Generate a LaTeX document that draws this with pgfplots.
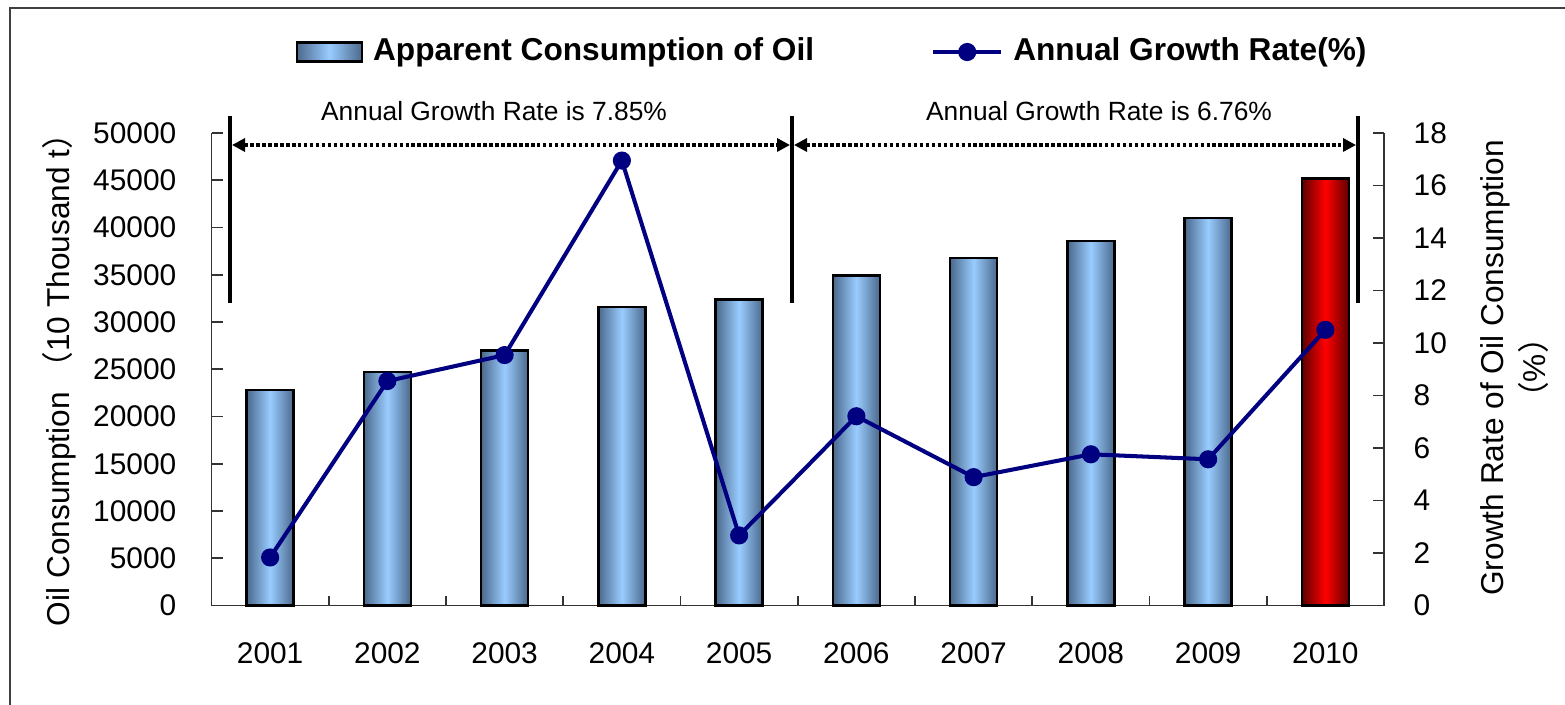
\documentclass[border=0pt]{standalone}
\usepackage{pgfplots}
\pgfplotsset{compat=1.18}
\usepackage{fontspec}
\setmainfont{Liberation Sans}
\newfontfamily\cjk{Noto Sans CJK SC}
\usetikzlibrary{arrows.meta}

\definecolor{barmid}{RGB}{153,204,255}
\definecolor{baredge}{RGB}{75,105,140}
\definecolor{redmid}{RGB}{255,0,0}
\definecolor{rededge}{RGB}{95,0,0}
\definecolor{navyline}{RGB}{0,0,128}

\pgfplotsset{
  mylinelegend/.style={legend image code/.code={\draw[mark repeat=2, mark phase=2, ##1] plot coordinates {(0cm,0cm) (0.34cm,0cm) (0.68cm,0cm)};}},
  mybarlegend/.style={legend image code/.code={\draw[draw=black, line width=0.7pt, left color=baredge, right color=baredge, middle color=barmid] (0cm,-0.095cm) rectangle (0.65cm,0.095cm);}},
  bluebar/.style={ybar, bar width=0.4, bar shift=0pt, draw=black, line width=0.7pt,
    left color=baredge, right color=baredge, middle color=barmid},
  redbar/.style={ybar, bar width=0.4, bar shift=0pt, draw=black, line width=0.7pt,
    left color=rededge, right color=rededge, middle color=redmid},
}

\newcommand{\tickfont}{\fontsize{8.5}{10}\selectfont}
\newcommand{\labfont}{\fontsize{9.0}{10}\selectfont}

\begin{document}
\begin{tikzpicture}
\path[use as bounding box] (0,0) rectangle (15.65,7.04);
\draw[line width=0.6pt, draw=black!75] (0.10,-0.5) -- (0.10,6.96) -- (16.0,6.96);

\begin{axis}[
  at={(2.115cm,0.985cm)}, anchor=south west,
  scale only axis, width=11.725cm, height=4.725cm,
  xmin=-0.5, xmax=9.5, ymin=0, ymax=50000,
  axis x line*=bottom, axis y line*=left,
  axis line style={line width=0.45pt, draw=black!80, -},
  tick style={line width=0.45pt, draw=black!80},
  tick align=inside,
  xtick={0,...,9},
  xticklabels={2001,2002,2003,2004,2005,2006,2007,2008,2009,2010},
  major x tick style={draw=none},
  minor xtick={0.5,1.5,...,8.5},
  minor tick length=0.1cm,
  major tick length=0.11cm,
  ytick={0,5000,...,50000},
  scaled y ticks=false,
  yticklabel style={/pgf/number format/fixed, /pgf/number format/1000 sep={}, anchor=east, inner sep=0pt, xshift=-0.345cm},
  xticklabel style={anchor=north, inner sep=0pt, yshift=-0.365cm},
  tick label style={font=\tickfont},
  /pgf/number format/assume math mode=true,
  clip=false,
]
% Apparent consumption of oil (10 thousand t), one plot per bar so each bar is shaded on its own
\addplot[bluebar] coordinates {(0,22800)};
\addplot[bluebar] coordinates {(1,24700)};
\addplot[bluebar] coordinates {(2,27000)};
\addplot[bluebar] coordinates {(3,31600)};
\addplot[bluebar] coordinates {(4,32400)};
\addplot[bluebar] coordinates {(5,34900)};
\addplot[bluebar] coordinates {(6,36800)};
\addplot[bluebar] coordinates {(7,38600)};
\addplot[bluebar] coordinates {(8,41000)};
\addplot[redbar]  coordinates {(9,45200)};
\end{axis}

\begin{axis}[
  at={(2.115cm,0.985cm)}, anchor=south west,
  scale only axis, width=11.725cm, height=4.725cm,
  xmin=-0.5, xmax=9.5, ymin=0, ymax=18,
  axis y line*=right, axis x line=none,
  axis line style={line width=0.45pt, draw=black!80, -},
  tick style={line width=0.45pt, draw=black!80},
  tick align=inside,
  major tick length=0.11cm,
  ytick={0,2,...,18},
  yticklabel style={anchor=west, inner sep=0pt, xshift=0.29cm},
  tick label style={font=\tickfont},
  /pgf/number format/assume math mode=true,
  clip=false,
  legend style={at={(0.5314,1.1714)}, anchor=center, draw=none, fill=none,
    legend columns=2, font=\bfseries\fontsize{9.0}{10}\selectfont,
    /tikz/every odd column/.append style={column sep=0.03cm},
    /tikz/every even column/.append style={column sep=1.10cm}},
]
\addlegendimage{mybarlegend}
\addlegendentry{Apparent Consumption of Oil}
\addplot[navyline, line width=1.15pt, mark=*, mark size=2pt, mark options={fill=navyline, draw=navyline}, mylinelegend]
  coordinates {(0,1.83) (1,8.55) (2,9.54) (3,16.95) (4,2.67) (5,7.21) (6,4.89) (7,5.76) (8,5.57) (9,10.50)};
\addlegendentry{Annual Growth Rate(\%)}
\end{axis}

% axis titles
\node[rotate=90, anchor=base, font=\labfont] at (0.69,3.32) {Oil Consumption {\cjk （}10 Thousand t{\cjk ）}};
\node[rotate=90, anchor=base, font=\labfont] at (15.03,3.36) {Growth Rate of Oil Consumption};
\node[rotate=90, anchor=base, font=\labfont] at (15.45,3.36) {{\cjk （}\%{\cjk ）}};

% period annotations
\foreach \xx in {2.30,7.92,13.58} {
  \draw[line width=1.05pt] (\xx,5.88) -- (\xx,4.01);
}
\draw[line width=1pt, dash pattern=on 1pt off 0.7pt, {Triangle[length=0.13cm,width=0.13cm]}-{Triangle[length=0.13cm,width=0.13cm]}] (2.32,5.59) -- (7.90,5.59);
\draw[line width=1pt, dash pattern=on 1pt off 0.7pt, {Triangle[length=0.13cm,width=0.13cm]}-{Triangle[length=0.13cm,width=0.13cm]}] (7.94,5.59) -- (13.56,5.59);
\node[anchor=base, font=\fontsize{7.5}{9}\selectfont, inner sep=0pt] at (4.94,5.83) {Annual Growth Rate is 7.85\%};
\node[anchor=base, font=\fontsize{7.5}{9}\selectfont, inner sep=0pt] at (10.99,5.83) {Annual Growth Rate is 6.76\%};
\end{tikzpicture}
\end{document}
